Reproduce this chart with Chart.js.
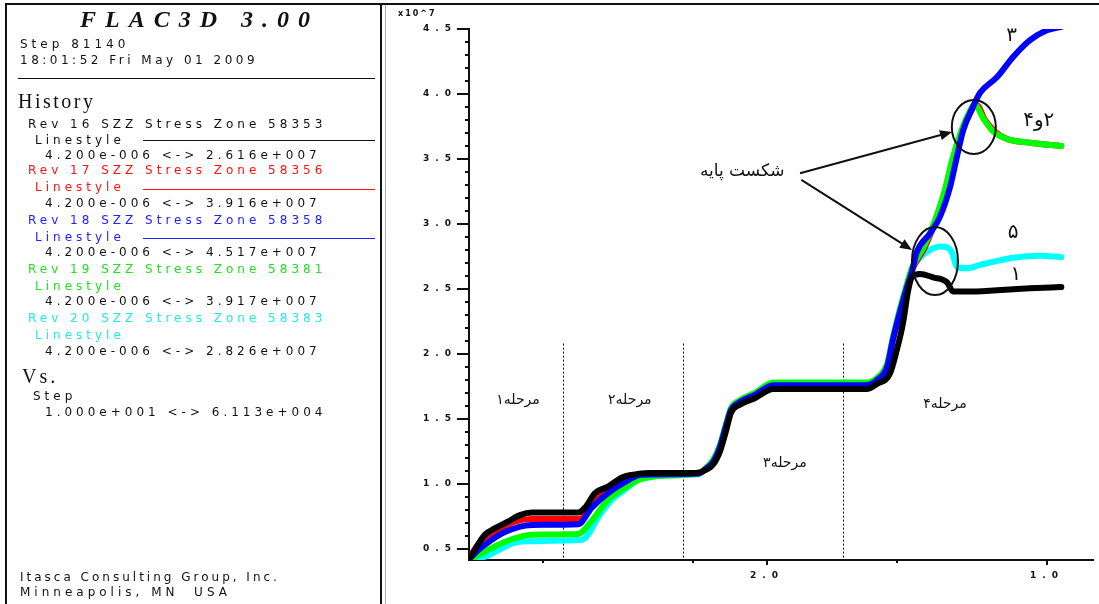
<!DOCTYPE html>
<html>
<head>
<meta charset="utf-8">
<script src="https://cdn.jsdelivr.net/npm/chart.js@4.4.1/dist/chart.umd.min.js"></script>
<style>
  html, body { margin: 0; padding: 0; background: #fff; }
  #wrap { position: relative; width: 1099px; height: 604px; overflow: hidden; }
  #chart { position: absolute; left: 0; top: 0; }
  #panel { position: absolute; left: 5px; top: 3px; width: 373px; height: 620px; border: 2px solid #111; border-bottom: none; }
  #topline { position: absolute; left: 380px; right: 0; top: 3px; height: 2px; background: #111; }
  #grayline { position: absolute; left: 385px; top: 5px; width: 1px; height: 600px; background: #aaa; }
  .t { position: absolute; white-space: pre; font: 12px 'DejaVu Sans', sans-serif; letter-spacing: 4px; line-height: 14px; color: #111; }
  .serif { font-family: 'Liberation Serif', serif; }
  .title { font: italic bold 24px 'Liberation Serif', serif; letter-spacing: 9px; line-height: 26px; }
  .hr { position: absolute; height: 1px; background: #111; }
</style>
</head>
<body>
<div id="wrap">
  <canvas id="chart" width="1099" height="604"></canvas>
  <div id="panel"></div>
  <div id="topline"></div>
  <div id="grayline"></div>

  <div class="t title" style="left:80px; top:6px;">FLAC3D 3.00</div>
  <div class="t" style="left:20px; top:37px;">Step 81140</div>
  <div class="t" style="left:20px; top:53px; letter-spacing:3.5px;">18:01:52 Fri May 01 2009</div>
  <div class="hr" style="left:18px; width:357px; top:78px;"></div>

  <div class="t serif" style="left:18px; top:90px; font-size:20px; line-height:22px; letter-spacing:2.5px;">History</div>
  <div class="t" style="left:28px; top:117px;">Rev 16 SZZ Stress Zone 58353</div>
  <div class="t" style="left:35px; top:133px;">Linestyle</div>
  <div class="hr" style="left:143px; width:232px; top:140px;"></div>
  <div class="t" style="left:45px; top:148px;">4.200e-006 &lt;-&gt; 2.616e+007</div>

  <div class="t" style="left:28px; top:163px; color:#ff1010;">Rev 17 SZZ Stress Zone 58356</div>
  <div class="t" style="left:35px; top:180px; color:#ff1010;">Linestyle</div>
  <div class="hr" style="left:143px; width:232px; top:189px; background:#ff1010;"></div>
  <div class="t" style="left:45px; top:196px;">4.200e-006 &lt;-&gt; 3.916e+007</div>

  <div class="t" style="left:28px; top:213px; color:#2020ff;">Rev 18 SZZ Stress Zone 58358</div>
  <div class="t" style="left:35px; top:230px; color:#2020ff;">Linestyle</div>
  <div class="hr" style="left:143px; width:232px; top:238px; background:#2020ff;"></div>
  <div class="t" style="left:45px; top:245px;">4.200e-006 &lt;-&gt; 4.517e+007</div>

  <div class="t" style="left:28px; top:262px; color:#20e020;">Rev 19 SZZ Stress Zone 58381</div>
  <div class="t" style="left:35px; top:279px; color:#20e020;">Linestyle</div>
  <div class="t" style="left:45px; top:294px;">4.200e-006 &lt;-&gt; 3.917e+007</div>

  <div class="t" style="left:28px; top:311px; color:#20eaea;">Rev 20 SZZ Stress Zone 58383</div>
  <div class="t" style="left:35px; top:328px; color:#20eaea;">Linestyle</div>
  <div class="t" style="left:45px; top:344px;">4.200e-006 &lt;-&gt; 2.826e+007</div>

  <div class="t serif" style="left:22px; top:365px; font-size:20px; line-height:22px; letter-spacing:3px;">Vs.</div>
  <div class="t" style="left:33px; top:389px;">Step</div>
  <div class="t" style="left:45px; top:405px;">1.000e+001 &lt;-&gt; 6.113e+004</div>

  <div class="t" style="left:20px; top:570px; letter-spacing:3px;">Itasca Consulting Group, Inc.</div>
  <div class="t" style="left:20px; top:585px;">Minneapolis, MN  USA</div>
</div>

<script>
// step values and stress values (x10^7)
const blackX = [100, 900, 1650, 2700, 4000, 5250, 6500, 11250, 12000, 13000, 14350, 15800, 16800, 18500, 23300, 23850, 25200, 25900, 26500, 27050, 27950, 29500, 31400, 41050, 42100, 43450, 44150, 44800, 45300, 45700, 46550, 47900, 49350, 49950, 51400, 54500, 57900, 61130]
const blackY = [0.43, 0.53, 0.61, 0.66, 0.71, 0.76, 0.78, 0.78, 0.82, 0.93, 0.98, 1.05, 1.07, 1.085, 1.085, 1.09, 1.15, 1.25, 1.40, 1.55, 1.61, 1.66, 1.73, 1.73, 1.77, 1.85, 2.03, 2.24, 2.48, 2.59, 2.616, 2.59, 2.55, 2.48, 2.48, 2.49, 2.505, 2.515]

const redX = [100, 1150, 3000, 4750, 6500, 11450, 12700, 14350, 16100, 18150, 23650, 24350, 25200, 25900, 26500, 27050, 27950, 29500, 31400, 41050, 42100, 43150, 43750, 44450, 45200, 45700, 47050, 48100, 49100, 49850, 50650, 51500, 52400, 53250, 54300, 55500, 57900, 61130]
const redY = [0.44, 0.555, 0.645, 0.71, 0.73, 0.73, 0.86, 0.97, 1.045, 1.07, 1.08, 1.115, 1.18, 1.29, 1.44, 1.57, 1.64, 1.69, 1.76, 1.76, 1.81, 1.91, 2.11, 2.32, 2.52, 2.645, 2.82, 3.015, 3.245, 3.47, 3.66, 3.82, 3.916, 3.80, 3.71, 3.655, 3.625, 3.60]

const blueX = [100, 1350, 3700, 6500, 11250, 12700, 14350, 16100, 17850, 23650, 24350, 25200, 25900, 26500, 27050, 27950, 29500, 31400, 41050, 42100, 43150, 43750, 44450, 45200, 45700, 46200, 47600, 48600, 49650, 50350, 51000, 52000, 52750, 54500, 56150, 57900, 59650, 61130]
const blueY = [0.43, 0.515, 0.63, 0.685, 0.69, 0.82, 0.93, 1.015, 1.07, 1.08, 1.11, 1.17, 1.285, 1.44, 1.57, 1.63, 1.685, 1.76, 1.76, 1.80, 1.90, 2.11, 2.315, 2.515, 2.63, 2.78, 2.93, 3.055, 3.285, 3.515, 3.72, 3.90, 4.01, 4.13, 4.285, 4.415, 4.49, 4.517]

const greenX = [100, 1650, 3700, 6500, 11250, 12700, 14350, 15800, 17450, 19200, 23650, 24350, 25200, 25900, 26500, 27050, 27950, 29500, 31400, 41050, 42100, 43150, 43750, 44450, 45200, 45700, 47050, 48100, 49100, 49850, 50650, 51500, 52200, 53050, 54050, 55500, 57900, 61130]
const greenY = [0.42, 0.48, 0.555, 0.61, 0.615, 0.72, 0.88, 0.955, 1.03, 1.06, 1.08, 1.115, 1.185, 1.30, 1.455, 1.585, 1.645, 1.70, 1.78, 1.78, 1.815, 1.925, 2.125, 2.34, 2.54, 2.66, 2.84, 3.03, 3.26, 3.49, 3.685, 3.84, 3.917, 3.815, 3.715, 3.655, 3.625, 3.60]

const cyanX = [100, 1650, 3000, 4750, 6500, 11650, 12300, 13300, 14750, 15800, 17450, 18900, 20250, 23650, 24350, 25200, 25900, 26500, 27050, 27950, 29500, 31400, 41050, 42100, 43150, 43750, 44450, 45200, 45700, 46550, 47600, 48600, 49350, 49850, 50350, 51400, 52750, 56150, 58950, 61130]
const cyanY = [0.42, 0.44, 0.49, 0.55, 0.56, 0.57, 0.61, 0.74, 0.88, 0.94, 1.03, 1.055, 1.07, 1.075, 1.11, 1.17, 1.285, 1.43, 1.57, 1.63, 1.685, 1.745, 1.745, 1.80, 1.90, 2.11, 2.315, 2.515, 2.645, 2.74, 2.80, 2.826, 2.82, 2.78, 2.67, 2.66, 2.685, 2.74, 2.755, 2.745]

// axis ticks
const yTickValues = [0.5, 1.0, 1.5, 2.0, 2.5, 3.0, 3.5, 4.0, 4.5]
const xTickValues = [30750, 59650]
const xTickLabels = ['2.0', '1.0']
const xMinorTicks = [7650, 23100, 44150]

// stage separators and labels
const stageBounds = [9700, 22100, 38600]
const stageTop = 2.08
const stageLabels = ['مرحله۱', 'مرحله۲', 'مرحله۳', 'مرحله۴']
const stageLabelX = [5060, 16600, 32600, 49120]
const stageLabelY = [1.646, 1.646, 1.162, 1.615]

// curve numbers
const curveTags = ['۳', '۲و۴', '۵', '۱']
const curveTagX = [56000, 58800, 56150, 56450]
const curveTagY = [4.45, 3.79, 2.93, 2.61]

// base failure note, circles and arrows
const failText = 'شکست پایه'
const failTextAt = [28200, 3.40]
const circleAt = [[52100, 3.746], [48090, 2.715]]
const arrowFrom = [[34160, 3.39], [34300, 3.34]]
const arrowTo = [[49850, 3.708], [45720, 2.80]]

function pts(xs, ys) {
  return xs.map((x, i) => ({ x: x, y: ys[i] }))
}

function series(label, xs, ys, color, order) {
  return {
    label: label,
    data: pts(xs, ys),
    borderColor: color,
    backgroundColor: color,
    borderWidth: 6,
    pointRadius: 0,
    fill: false,
    cubicInterpolationMode: 'monotone',
    borderCapStyle: 'round',
    borderJoinStyle: 'round',
    order: order
  }
}

const overlay = {
  id: 'overlay',
  beforeDraw(chart) {
    chart.ctx.letterSpacing = '6px'
  },
  beforeDatasetsDraw(chart) {
    const { ctx, chartArea } = chart
    const x = chart.scales.x, y = chart.scales.y
    ctx.save()
    ctx.strokeStyle = '#000'
    ctx.lineWidth = 1
    ctx.setLineDash([2, 2])
    stageBounds.forEach(s => {
      const px = Math.round(x.getPixelForValue(s)) + 0.5
      ctx.beginPath()
      ctx.moveTo(px, y.getPixelForValue(stageTop))
      ctx.lineTo(px, chartArea.bottom)
      ctx.stroke()
    })
    ctx.restore()
  },
  afterDraw(chart) {
    const { ctx, chartArea } = chart
    const x = chart.scales.x, y = chart.scales.y
    ctx.save()
    ctx.letterSpacing = '0px'
    ctx.strokeStyle = '#111'
    ctx.fillStyle = '#111'
    ctx.lineWidth = 2

    // y tick marks (major and minor)
    for (let v = 0.5; v <= 4.501; v += 0.1) {
      const py = Math.round(y.getPixelForValue(v))
      const major = Math.abs(v * 2 - Math.round(v * 2)) < 0.01
      ctx.beginPath()
      ctx.moveTo(chartArea.left - (major ? 12 : 4), py)
      ctx.lineTo(chartArea.left, py)
      ctx.stroke()
    }
    // x tick marks
    xTickValues.forEach(v => {
      const px = Math.round(x.getPixelForValue(v))
      ctx.beginPath(); ctx.moveTo(px, chartArea.bottom); ctx.lineTo(px, chartArea.bottom + 5); ctx.stroke()
    })
    xMinorTicks.forEach(v => {
      const px = Math.round(x.getPixelForValue(v))
      ctx.beginPath(); ctx.moveTo(px, chartArea.bottom); ctx.lineTo(px, chartArea.bottom + 3); ctx.stroke()
    })

    // axis multiplier
    ctx.font = 'bold 8px "DejaVu Sans"'
    ctx.letterSpacing = '2px'
    ctx.textAlign = 'left'
    ctx.textBaseline = 'middle'
    ctx.fillText('x10^7', y.left + 13, chartArea.top - 15)
    ctx.letterSpacing = '0px'

    // circles
    ctx.lineWidth = 2
    circleAt.forEach((c, i) => {
      const cx = x.getPixelForValue(c[0]), cy = y.getPixelForValue(c[1])
      ctx.beginPath()
      if (i === 0) ctx.ellipse(cx, cy, 22, 27, 0, 0, Math.PI * 2)
      else ctx.ellipse(cx, cy, 23, 34, 0, 0, Math.PI * 2)
      ctx.stroke()
    })

    // arrows
    arrowFrom.forEach((a, i) => {
      const x0 = x.getPixelForValue(a[0]), y0 = y.getPixelForValue(a[1])
      const x1 = x.getPixelForValue(arrowTo[i][0]), y1 = y.getPixelForValue(arrowTo[i][1])
      const ang = Math.atan2(y1 - y0, x1 - x0)
      ctx.beginPath()
      ctx.moveTo(x0, y0)
      ctx.lineTo(x1 - 8 * Math.cos(ang), y1 - 8 * Math.sin(ang))
      ctx.stroke()
      ctx.beginPath()
      ctx.moveTo(x1, y1)
      ctx.lineTo(x1 - 12 * Math.cos(ang) + 5 * Math.sin(ang), y1 - 12 * Math.sin(ang) - 5 * Math.cos(ang))
      ctx.lineTo(x1 - 12 * Math.cos(ang) - 5 * Math.sin(ang), y1 - 12 * Math.sin(ang) + 5 * Math.cos(ang))
      ctx.closePath()
      ctx.fill()
    })

    // persian labels
    ctx.direction = 'rtl'
    ctx.textAlign = 'center'
    ctx.textBaseline = 'middle'
    ctx.font = '14px "DejaVu Sans", sans-serif'
    stageLabels.forEach((s, i) => {
      ctx.fillText(s, x.getPixelForValue(stageLabelX[i]), y.getPixelForValue(stageLabelY[i]))
    })
    ctx.font = '17px "DejaVu Sans", sans-serif'
    ctx.fillText(failText, x.getPixelForValue(failTextAt[0]), y.getPixelForValue(failTextAt[1]))
    ctx.font = '20px "DejaVu Sans", sans-serif'
    curveTags.forEach((s, i) => {
      ctx.fillText(s, x.getPixelForValue(curveTagX[i]), y.getPixelForValue(curveTagY[i]))
    })
    ctx.restore()
  }
}

const chart = new Chart(document.getElementById('chart'), {
  type: 'line',
  data: {
    datasets: [
      series('Rev 16 SZZ Stress Zone 58353', blackX, blackY, '#000000', 0),
      series('Rev 17 SZZ Stress Zone 58356', redX, redY, '#ff0000', 3),
      series('Rev 18 SZZ Stress Zone 58358', blueX, blueY, '#0000ff', 1),
      series('Rev 19 SZZ Stress Zone 58381', greenX, greenY, '#00ff00', 2),
      series('Rev 20 SZZ Stress Zone 58383', cyanX, cyanY, '#00ffff', 4)
    ]
  },
  options: {
    responsive: false,
    animation: false,
    devicePixelRatio: 1,
    layout: { padding: { left: 385, top: 29, right: 6, bottom: 0 } },
    plugins: { legend: { display: false }, tooltip: { enabled: false } },
    scales: {
      x: {
        type: 'linear',
        min: 0,
        max: 64400,
        grid: { drawOnChartArea: false, drawTicks: false },
        border: { color: '#111', width: 2 },
        afterBuildTicks: s => { s.ticks = xTickValues.map(v => ({ value: v })) },
        afterFit: s => { s.height = 44 },
        ticks: {
          autoSkip: false,
          maxRotation: 0,
          padding: 10,
          color: '#111',
          font: { family: 'DejaVu Sans', size: 9, weight: 'bold' },
          callback: (v, i) => xTickLabels[i]
        }
      },
      y: {
        type: 'linear',
        min: 0.415,
        max: 4.5,
        grid: { drawOnChartArea: false, drawTicks: false },
        border: { color: '#111', width: 2 },
        afterBuildTicks: s => { s.ticks = yTickValues.map(v => ({ value: v })) },
        afterFit: s => { s.width = 84 },
        ticks: {
          autoSkip: false,
          padding: 12,
          color: '#111',
          font: { family: 'DejaVu Sans', size: 9, weight: 'bold' },
          callback: v => v.toFixed(1)
        }
      }
    }
  },
  plugins: [overlay]
})
</script>
</body>
</html>
